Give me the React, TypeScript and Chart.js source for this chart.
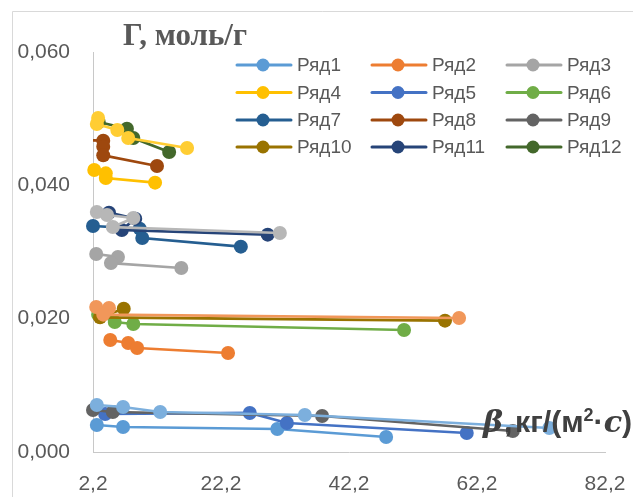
import { useEffect, useRef } from "react";
import { Chart, registerables } from "chart.js";

Chart.register(...registerables);

// Each series is a list of [β, Г] points.
const ryad1: [number, number][] = [[2.8, 0.00405], [6.9, 0.00375], [31.0, 0.00345], [48.0, 0.00225]];
const ryad2: [number, number][] = [[4.9, 0.0168], [7.7, 0.01635], [9.1, 0.0156], [23.3, 0.01485]];
const ryad3: [number, number][] = [[2.7, 0.0297], [6.1, 0.02925], [5.0, 0.02835], [16.0, 0.0276]];
const ryad4: [number, number][] = [[2.4, 0.0423], [4.2, 0.0418], [4.2, 0.0411], [11.9, 0.0404]];
const ryad5: [number, number][] = [[4.1, 0.0057], [26.7, 0.00585], [32.5, 0.00435], [60.6, 0.00285]];
const ryad6: [number, number][] = [[3.0, 0.0206], [5.6, 0.0195], [8.5, 0.0192], [50.8, 0.0183]];
const ryad7: [number, number][] = [[2.2, 0.0339], [9.5, 0.0335], [9.9, 0.0321], [25.3, 0.0308]];
const ryad8: [number, number][] = [[1.0, 0.0468], [3.8, 0.0467], [3.8, 0.0458], [3.8, 0.0445], [12.2, 0.0429]];
const ryad9: [number, number][] = [[2.2, 0.0063], [5.3, 0.006], [38.0, 0.0054], [67.8, 0.00315]];
const ryad10: [number, number][] = [[7.0, 0.0215], [3.3, 0.0202], [57.2, 0.0197]];
const ryad11: [number, number][] = [[4.7, 0.0359], [8.8, 0.035], [6.7, 0.0333], [29.5, 0.0326]];
const ryad12: [number, number][] = [[3.1, 0.0495], [7.5, 0.0485], [8.5, 0.0471], [14.1, 0.045]];
const ryad13: [number, number][] = [[2.8, 0.00705], [6.9, 0.00675], [12.7, 0.006], [35.3, 0.00555], [73.5, 0.0036]];
const ryad14: [number, number][] = [[2.7, 0.02175], [4.7, 0.0216], [3.8, 0.0206], [59.4, 0.0201]];
const ryad15: [number, number][] = [[2.8, 0.036], [4.4, 0.03555], [8.5, 0.0351], [5.3, 0.03375], [31.4, 0.03285]];
const ryad16: [number, number][] = [[3.0, 0.0501], [2.8, 0.0492], [6.0, 0.0483], [7.7, 0.0471], [16.9, 0.0456]];

const allSeries = [
  ryad1, ryad2, ryad3, ryad4, ryad5, ryad6, ryad7, ryad8,
  ryad9, ryad10, ryad11, ryad12, ryad13, ryad14, ryad15, ryad16,
];

const seriesNames = [
  "Ряд1", "Ряд2", "Ряд3", "Ряд4", "Ряд5", "Ряд6", "Ряд7", "Ряд8",
  "Ряд9", "Ряд10", "Ряд11", "Ряд12", "Ряд13", "Ряд14", "Ряд15", "Ряд16",
];

const seriesColors = [
  "#5B9BD5", "#ED7D31", "#A5A5A5", "#FFC000", "#4472C4", "#70AD47",
  "#255E91", "#9E480E", "#636363", "#997300", "#264478", "#43682B",
  "#7CAFDD", "#F1975A", "#B7B7B7", "#FFCD33",
];

// Only the first twelve series appear in the legend.
const legendCount = 12;

const xTicks = [2.2, 22.2, 42.2, 62.2, 82.2];
const yTicks = [0, 0.02, 0.04, 0.06];

const yTitle = "Г, моль/г";

const TEXT = "#595959";
const SANS = "'Liberation Sans', Arial, sans-serif";
const SERIF_IT = "'DejaVu Serif', serif";

const fmt = (v: number, digits: number) => v.toFixed(digits).replace(".", ",");

const decor = {
  id: "decor",
  beforeDraw(chart: any) {
    const { ctx, width, height } = chart;
    ctx.save();
    ctx.fillStyle = "#ffffff";
    ctx.fillRect(0, 0, width, height);
    ctx.strokeStyle = "#D9D9D9";
    ctx.lineWidth = 1;
    ctx.beginPath();
    ctx.moveTo(12.5, height);
    ctx.lineTo(12.5, 11.5);
    ctx.lineTo(width, 11.5);
    ctx.stroke();
    ctx.restore();
  },
  afterDraw(chart: any) {
    const { ctx } = chart;
    ctx.save();

    // value-axis title above the plot
    ctx.fillStyle = TEXT;
    ctx.font = "bold 31px 'Liberation Serif', 'Times New Roman', serif";
    ctx.textBaseline = "alphabetic";
    ctx.textAlign = "left";
    ctx.fillText(yTitle, 123, 45);

    // β axis title: "β," at the left, unit block fitted to the right edge
    const unitLeft = 515;
    const unitRight = 632;
    const base = 432;
    const build = (size: number) => [
      { t: "кг/(м", f: `bold ${size}px ${SANS}`, dy: 0 },
      { t: "2", f: `bold ${Math.round(size * 0.6)}px ${SANS}`, dy: -size * 0.38 },
      { t: "·", f: `bold ${size}px ${SANS}`, dy: 0 },
      { t: "с", f: `bold italic ${size}px ${SERIF_IT}`, dy: 0 },
      { t: ")", f: `bold ${size}px ${SANS}`, dy: 0 },
    ];
    const widthOf = (parts: { t: string; f: string }[]) => {
      let w = 0;
      for (const p of parts) {
        ctx.font = p.f;
        w += ctx.measureText(p.t).width;
      }
      return w;
    };
    const size = 24 * (unitRight - unitLeft) / widthOf(build(24));
    ctx.fillStyle = "#404040";
    ctx.font = `bold italic ${size}px ${SERIF_IT}`;
    ctx.fillText("β", 483, base);
    const bw = ctx.measureText("β").width;
    ctx.font = `bold ${size}px ${SANS}`;
    ctx.fillText(",", 483 + bw + 1, base);
    let x = unitLeft;
    for (const p of build(size)) {
      ctx.font = p.f;
      ctx.fillText(p.t, x, base + p.dy);
      x += ctx.measureText(p.t).width;
    }

    // legend: 3 columns x 4 rows
    const colX = [237, 372, 507];
    const rowY = [65, 92.5, 120, 147];
    ctx.font = `19px ${SANS}`;
    ctx.textBaseline = "middle";
    for (let i = 0; i < legendCount; i++) {
      const cx = colX[i % 3];
      const cy = rowY[Math.floor(i / 3)];
      const c = seriesColors[i];
      ctx.strokeStyle = c;
      ctx.lineWidth = 3;
      ctx.lineCap = "round";
      ctx.beginPath();
      ctx.moveTo(cx, cy);
      ctx.lineTo(cx + 54, cy);
      ctx.stroke();
      ctx.fillStyle = c;
      ctx.beginPath();
      ctx.arc(cx + 26, cy, 6.5, 0, Math.PI * 2);
      ctx.fill();
      ctx.fillStyle = TEXT;
      ctx.fillText(seriesNames[i], cx + 60, cy + 1);
    }
    ctx.restore();
  },
};

export default function App() {
  const ref = useRef<HTMLCanvasElement>(null);

  useEffect(() => {
    const canvas = ref.current;
    if (!canvas) return;
    const datasets = allSeries.map((pts, i) => ({
      label: seriesNames[i],
      data: pts.map(([x, y]) => ({ x, y })),
      showLine: true,
      borderColor: seriesColors[i],
      backgroundColor: seriesColors[i],
      pointBackgroundColor: seriesColors[i],
      pointBorderColor: seriesColors[i],
      borderWidth: 2.75,
      pointRadius: 7,
      pointBorderWidth: 0,
      pointHoverRadius: 7,
      order: -i,
      clip: i === 7 ? { left: 0, top: 12, right: 12, bottom: 12 } : { left: 12, top: 12, right: 12, bottom: 12 },
    }));

    const chart = new Chart(canvas, {
      type: "scatter",
      data: { datasets },
      plugins: [decor],
      options: {
        responsive: false,
        animation: false,
        devicePixelRatio: 1,
        layout: { padding: { left: 0, top: 52, right: 28, bottom: 0 } },
        plugins: {
          legend: { display: false },
          tooltip: { enabled: false },
          title: { display: false },
        },
        scales: {
          x: {
            type: "linear",
            min: 2.2,
            max: 82.2,
            afterBuildTicks: (s: any) => {
              s.ticks = xTicks.map((v) => ({ value: v }));
            },
            afterFit: (s: any) => {
              s.height = 45;
              s.paddingLeft = 0;
              s.paddingRight = 0;
            },
            grid: { display: false, drawTicks: false },
            border: { display: true, color: "#C8C8C8", width: 1 },
            ticks: {
              autoSkip: false,
              maxRotation: 0,
              padding: 20,
              color: TEXT,
              font: { family: SANS, size: 21 },
              callback: (v: any) => fmt(Number(v), 1),
            },
          },
          y: {
            type: "linear",
            min: 0,
            max: 0.06,
            afterBuildTicks: (s: any) => {
              s.ticks = yTicks.map((v) => ({ value: v }));
            },
            afterFit: (s: any) => {
              s.width = 93;
              s.paddingTop = 0;
              s.paddingBottom = 0;
            },
            grid: { display: false, drawTicks: false },
            border: { display: true, color: "#C8C8C8", width: 1 },
            ticks: {
              padding: 23,
              color: TEXT,
              font: { family: SANS, size: 21 },
              callback: (v: any) => fmt(Number(v), 3),
            },
          },
        },
      } as any,
    });
    return () => chart.destroy();
  }, []);

  return (
    <div style={{ position: "fixed", left: 0, top: 0, width: 633, height: 497, background: "#fff" }}>
      <canvas ref={ref} width={633} height={497} style={{ display: "block" }} />
    </div>
  );
}
